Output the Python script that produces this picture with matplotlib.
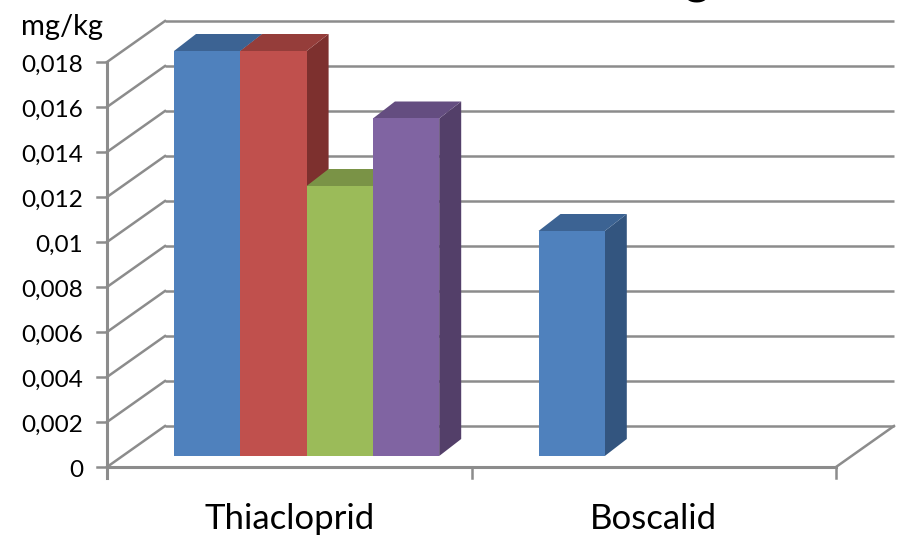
import matplotlib.pyplot as plt
from matplotlib.patches import Polygon

plt.rcParams['font.family'] = ['Lato', 'DejaVu Sans']

categories = ['Thiacloprid', 'Boscalid']
series_values = [
    [0.018, 0.01],
    [0.018, None],
    [0.012, None],
    [0.015, None],
]
front_colors = ['#4f81bd', '#c0504d', '#9bbb59', '#8064a2']
top_colors = ['#3c6393', '#953d3a', '#7a9346', '#644d80']
side_colors = ['#33557f', '#7d302e', '#657a3a', '#533f69']
y_ticks = [0, 0.002, 0.004, 0.006, 0.008, 0.01, 0.012, 0.014, 0.016, 0.018]
y_labels = ['0', '0,002', '0,004', '0,006', '0,008', '0,01', '0,012', '0,014', '0,016', '0,018']

# one category is 364.5 px wide, 0.002 is 45 px high
px_x = 1 / 364.5
px_y = 0.002 / 45

fig = plt.figure(figsize=(9.01, 5.35), dpi=100)
ax = fig.add_axes([0, 0, 1, 1])
ax.set_xlim(-107 * px_x, 794 * px_x)
ax.set_ylim(-68 * px_y, 467 * px_y)
ax.axis('off')

grid = '#8c8c8c'
wall_x = 58 * px_x
wall_y = 41 * px_y
lw = 1.8

# walls and floor
for v in y_ticks + [0.02]:
    ax.plot([wall_x, wall_x + 2], [v + wall_y, v + wall_y], color=grid, lw=lw, zorder=1, solid_capstyle='butt')
for v in y_ticks:
    ax.plot([0, wall_x], [v, v + wall_y], color=grid, lw=lw, zorder=1)
    ax.plot([-10 * px_x, 0], [v, v], color=grid, lw=lw, zorder=2)
ax.plot([2, 2 + wall_x], [0, wall_y], color=grid, lw=lw, zorder=1)
ax.plot([0, 2], [0, 0], color=grid, lw=2.2, zorder=2)
ax.plot([0, 0], [-11 * px_y, 0.018], color=grid, lw=2.2, zorder=2)
for k in [1, 2]:
    ax.plot([k, k], [-11 * px_y, 0], color=grid, lw=lw, zorder=2)

# bars
bar_w = 66.3 * px_x
start = 67 * px_x
base_y = 11 * px_y
dx = 22 * px_x
dy = 17 * px_y
z = 3
for g in range(len(categories)):
    for s, vals in enumerate(series_values):
        v = vals[g]
        if v is None:
            continue
        x0 = g + start + s * bar_w
        x1 = x0 + bar_w
        y0 = base_y
        y1 = base_y + v
        ax.add_patch(Polygon([(x1, y0), (x1 + dx, y0 + dy), (x1 + dx, y1 + dy), (x1, y1)],
                             color=side_colors[s], lw=0, zorder=z))
        ax.add_patch(Polygon([(x0, y1), (x1, y1), (x1 + dx, y1 + dy), (x0 + dx, y1 + dy)],
                             color=top_colors[s], lw=0, zorder=z))
        ax.add_patch(Polygon([(x0, y0), (x1, y0), (x1, y1), (x0, y1)],
                             color=front_colors[s], lw=0, zorder=z + 1))
        z += 2

for v, lab in zip(y_ticks, y_labels):
    ax.text(-24 * px_x, v - 3.5 * px_y, lab, ha='right', va='center', fontsize=17.5, color='black')
ax.text(-45 * px_x, 440 * px_y, 'mg/kg', ha='center', va='center', fontsize=21, color='black')

for k, cat in enumerate(categories):
    ax.text(k + 0.5, -52 * px_y, cat, ha='center', va='center', fontsize=25, color='black')

# title is cut off by the top edge, only the tail of the g shows
ax.text(590 * px_x, 473 * px_y, 'g', ha='center', va='baseline', fontsize=34, fontweight='bold', color='black')

fig.savefig('out.png', dpi=100)
